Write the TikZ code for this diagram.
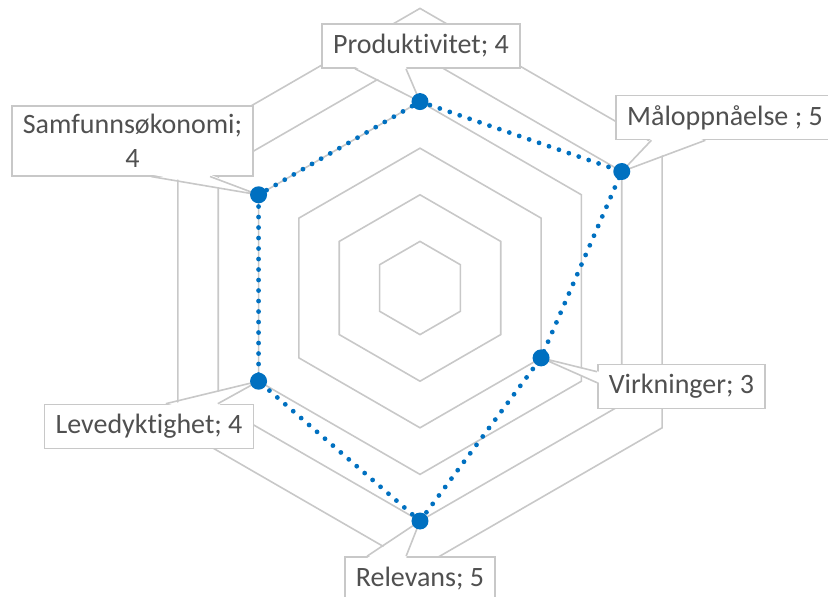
\documentclass[tikz,border=0pt]{standalone}
\usepackage{fontspec}
\setmainfont{Carlito}[Ligatures={NoCommon}]
\usetikzlibrary{positioning,calc}
\definecolor{gridgray}{RGB}{200,200,200}
\definecolor{serieblue}{RGB}{0,112,192}
\definecolor{labelgray}{RGB}{80,80,80}

\begin{document}
\begin{tikzpicture}[x=1pt,y=1pt,
	grid/.style={draw=gridgray, line width=1.6pt, line join=miter},
	lbl/.style={draw=gridgray, fill=white, line width=1.6pt, text=labelgray, font=\fontsize{28}{34}\selectfont, inner xsep=11pt, inner ysep=8pt, minimum height=44pt, align=center},
	ptr/.style={draw=gridgray, line width=1.6pt, line join=miter},
	gap/.style={fill=white},
	serie/.style={draw=serieblue, line width=4.8pt, line cap=round, dash pattern=on 0pt off 10.5pt},
	dotmark/.style={fill=serieblue}]
	\def\u{46.6}
	\useasboundingbox (-420,-309) rectangle (408,288);
	\clip (-420,-309) rectangle (408,288);
	\foreach \r in {1,...,6}
		\draw[grid] (90:\r*\u) -- (30:\r*\u) -- (-30:\r*\u) -- (-90:\r*\u) -- (-150:\r*\u) -- (150:\r*\u) -- cycle;
	\foreach \a/\v/\n in {90/4/1, 30/5/2, -30/3/3, -90/5/4, -150/4/5, 150/4/6}
		\coordinate (P\n) at (\a:\v*\u);
	
	\node[lbl] (L1) at (1,242) {Produktivitet; 4};
	\node[lbl] (L2) at (305,170.5) {Måloppnåelse ; 5};
	\node[lbl] (L3) at (-287.5,147) {Samfunnsøkonomi;\\4};
	\node[lbl] (L4) at (-271,-138.5) {Levedyktighet; 4};
	\node[lbl] (L5) at (261.5,-98.5) {Virkninger; 3};
	\node[lbl] (L6) at (0,-291) {Relevans; 5};
	
	\fill[gap] ([xshift=-66pt,yshift=2pt]L1.south) -- (P1) -- ([xshift=-15pt,yshift=2pt]L1.south) -- cycle;
	\draw[ptr] ([xshift=-66pt]L1.south) -- (P1) -- ([xshift=-15pt]L1.south);
	\fill[gap] ([xshift=36pt,yshift=2pt]L2.south west) -- (P2) -- ([xshift=90pt,yshift=2pt]L2.south west) -- cycle;
	\draw[ptr] ([xshift=36pt]L2.south west) -- (P2) -- ([xshift=90pt]L2.south west);
	\fill[gap] ([xshift=140pt,yshift=2pt]L3.south west) -- (P6) -- ([xshift=199pt,yshift=2pt]L3.south west) -- cycle;
	\draw[ptr] ([xshift=140pt]L3.south west) -- (P6) -- ([xshift=199pt]L3.south west);
	\fill[gap] ([xshift=122pt,yshift=-2pt]L4.north west) -- (P5) -- ([xshift=174pt,yshift=-2pt]L4.north west) -- cycle;
	\draw[ptr] ([xshift=122pt]L4.north west) -- (P5) -- ([xshift=174pt]L4.north west);
	\fill[gap] ([xshift=2pt,yshift=-8pt]L5.north west) -- (P3) -- ([xshift=2pt,yshift=-19pt]L5.north west) -- cycle;
	\draw[ptr] ([yshift=-8pt]L5.north west) -- (P3) -- ([yshift=-19pt]L5.north west);
	\fill[gap] ([xshift=23pt,yshift=-2pt]L6.north west) -- (P4) -- ([xshift=62pt,yshift=-2pt]L6.north west) -- cycle;
	\draw[ptr] ([xshift=23pt]L6.north west) -- (P4) -- ([xshift=62pt]L6.north west);
	
	\draw[serie] (P1) -- (P2) -- (P3) -- (P4) -- (P5) -- (P6) -- cycle;
	\foreach \n in {1,...,6}
		\fill[dotmark] (P\n) circle (8.5pt);
\end{tikzpicture}
\end{document}
